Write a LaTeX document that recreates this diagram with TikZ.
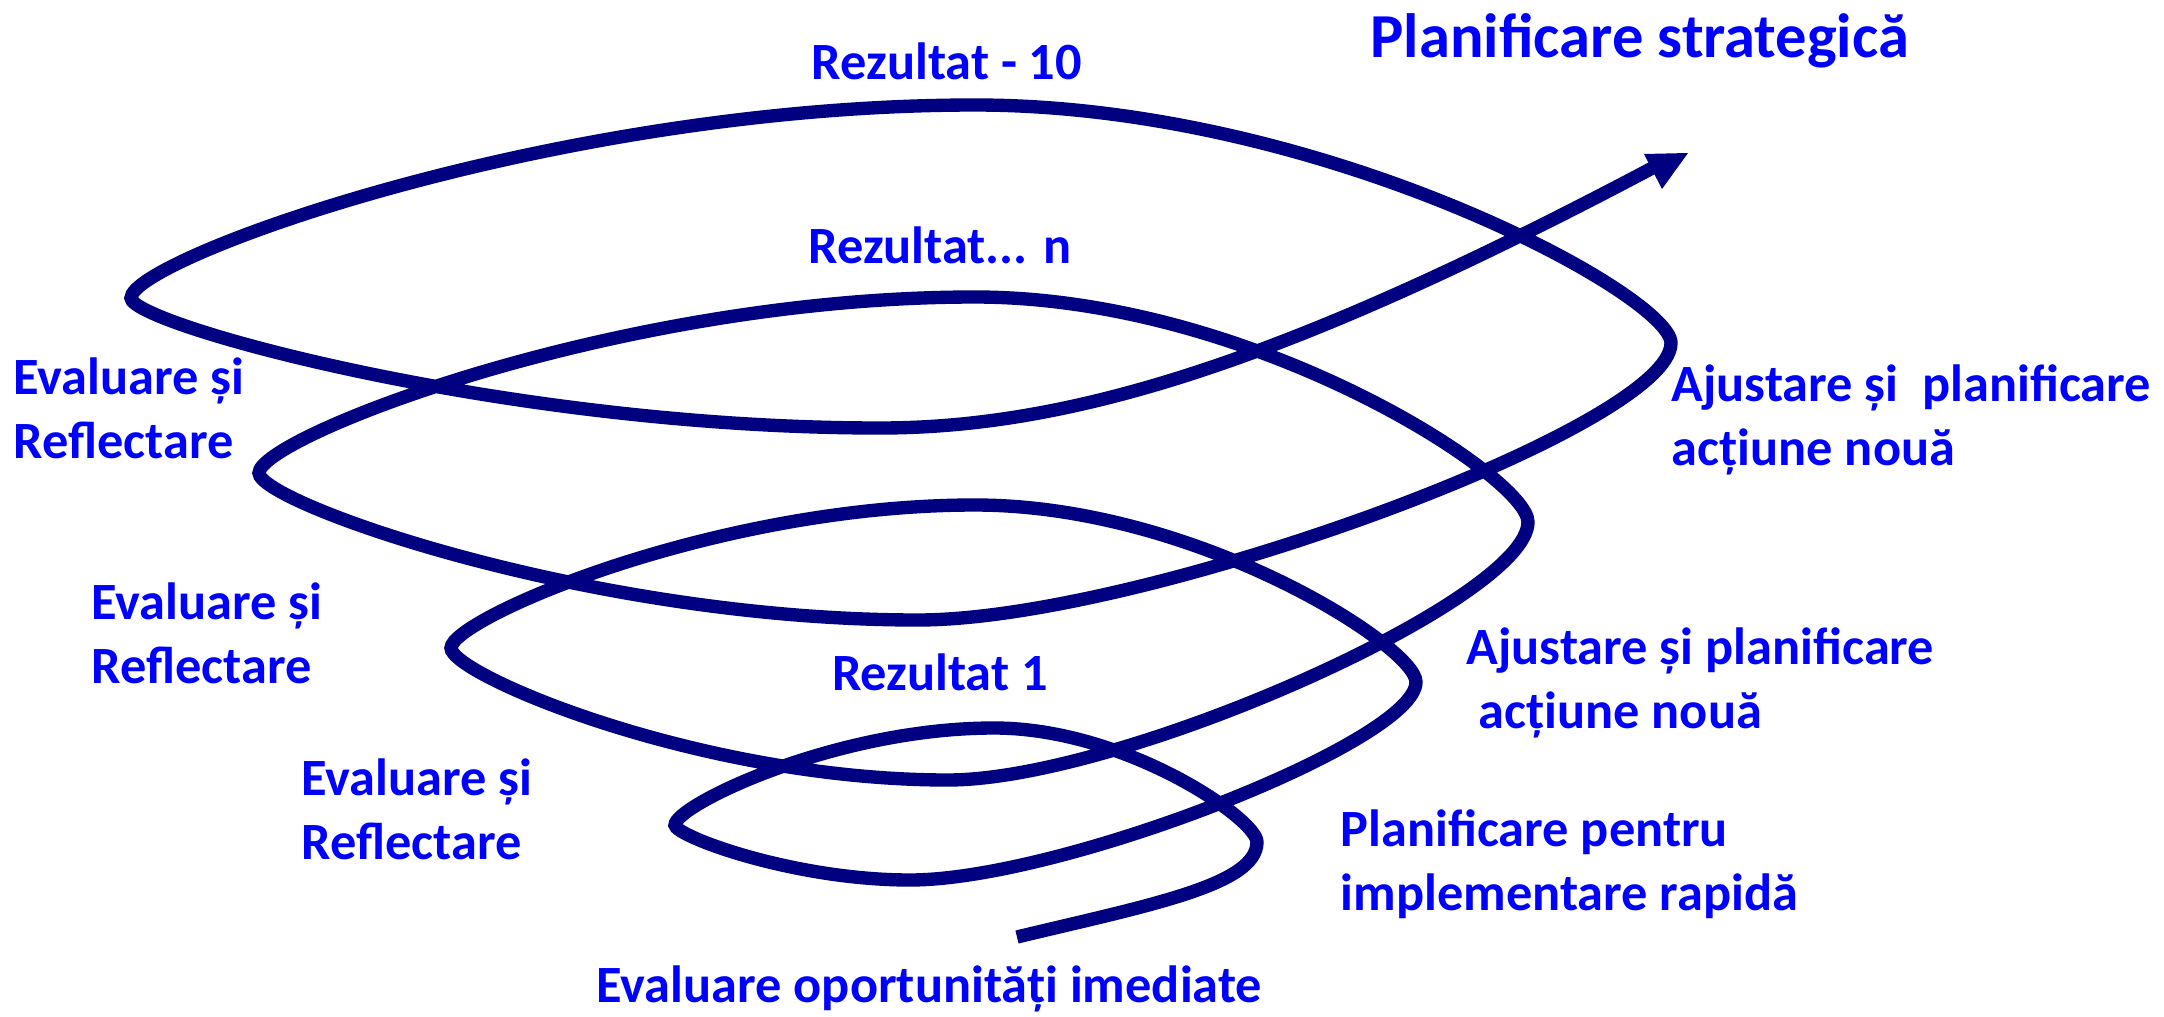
\documentclass[tikz,border=0pt]{standalone}
\usepackage{fontspec}
\setmainfont{Carlito}
\usepackage{tikz}

\definecolor{spiralnavy}{RGB}{0,0,128}
\definecolor{labelblue}{RGB}{0,0,255}
\newcommand{\lblfont}{\bfseries\fontsize{14.9}{18.2}\selectfont}
\newcommand{\ttlfont}{\bfseries\fontsize{17.8}{21}\selectfont}

\begin{document}
\begin{tikzpicture}[scale=0.2]
\tikzstyle{every node}+=[inner sep=0pt]
\tikzstyle{lbl}=[text=labelblue, font=\lblfont, align=left, anchor=base west]
\useasboundingbox (0,0) rectangle (108.2,-50.85);

% spiral, from the tail up to the arrow
\draw [spiralnavy, line width=3.8pt] (50.85,-46.85)
 .. controls (57.5,-45.25) and (62.85,-44.25) .. (62.85,-42.1)
 .. controls (62.85,-40.96) and (56.28,-36.4) .. (49.7,-36.4)
 .. controls (41.73,-36.4) and (33.75,-40.28) .. (33.75,-41.25)
 .. controls (33.75,-41.8) and (39.63,-44) .. (45.5,-44)
 .. controls (53.09,-44) and (70.8,-37.07) .. (70.8,-34.1)
 .. controls (70.8,-32.33) and (59.78,-25.25) .. (48.75,-25.25)
 .. controls (35.65,-25.25) and (22.55,-30.97) .. (22.55,-32.4)
 .. controls (22.55,-33.72) and (34.98,-39) .. (47.4,-39)
 .. controls (56.1,-39) and (76.4,-29.97) .. (76.4,-26.1)
 .. controls (76.4,-23.85) and (62.58,-14.85) .. (48.75,-14.85)
 .. controls (30.85,-14.85) and (12.95,-21.89) .. (12.95,-23.65)
 .. controls (12.95,-25.12) and (29.43,-31) .. (45.9,-31)
 .. controls (57.2,-31) and (83.55,-21.31) .. (83.55,-17.15)
 .. controls (83.55,-14.77) and (66.15,-5.25) .. (48.75,-5.25)
 .. controls (27.65,-5.25) and (6.55,-12.97) .. (6.55,-14.9)
 .. controls (6.55,-16.2) and (25.28,-21.4) .. (44,-21.4)
 .. controls (54,-21.4) and (65,-17.75) .. (82.9,-8.25);
\fill [spiralnavy] (84.4,-7.65) -- (82.2,-7.7) -- (83.1,-9.45);

\node [text=labelblue, font=\ttlfont, anchor=base west] (title) at (68.5,-2.85) {Planificare strategică};

\node [lbl, anchor=base] (res10) at (47.35,-3.95) {Rezultat - 10};
\node [lbl, anchor=base] (resn) at (47,-13.15) {Rezultat... n};
\node [lbl, anchor=base] (res1) at (47,-34.5) {Rezultat 1};

\node [lbl] (eval3) at (0.65,-22.9) {Evaluare și\\Reflectare};
\node [lbl] (eval2) at (4.55,-34.15) {Evaluare și\\Reflectare};
\node [lbl] (eval1) at (15.05,-42.95) {Evaluare și\\Reflectare};

\node [lbl] (adj2) at (83.55,-23.25) {Ajustare și\ \ planificare\\acțiune nouă};
\node [lbl] (adj1) at (73.3,-36.4) {Ajustare și planificare\\\ acțiune nouă};
\node [lbl] (plan) at (67,-45.5) {Planificare pentru\\implementare rapidă};

\node [lbl] (opp) at (29.8,-50.1) {Evaluare oportunități imediate};
\end{tikzpicture}
\end{document}
